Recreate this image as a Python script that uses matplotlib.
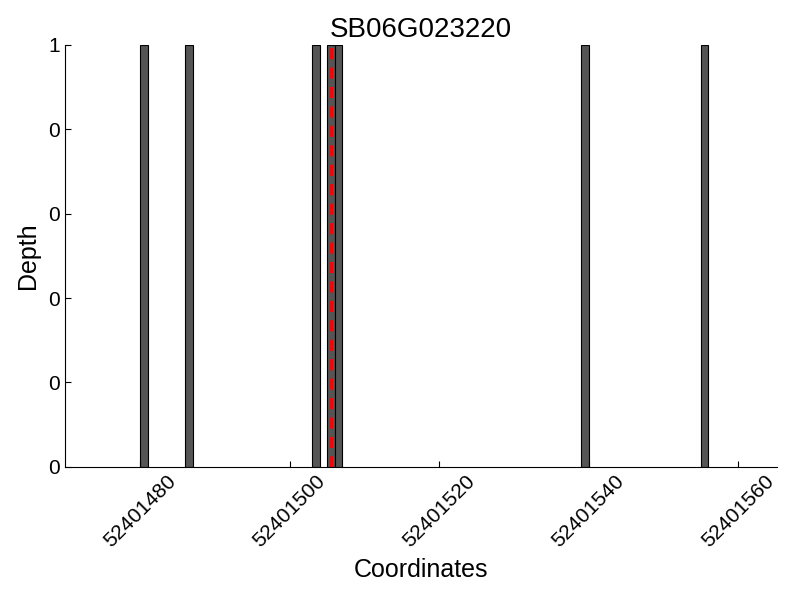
import matplotlib
matplotlib.use('Agg')
import matplotlib.pyplot as plt
from matplotlib.ticker import FormatStrFormatter

plt.rcParams['font.family'] = ['Liberation Sans', 'DejaVu Sans']

# Read coverage positions (left edge of each 1-bp bin) and depth
positions = [52401480, 52401486, 52401503, 52401505, 52401506, 52401539, 52401555]
depths = [1, 1, 1, 1, 1, 1, 1]
snp_pos = 52401505.5
title = 'SB06G023220'
x_ticks = [52401480, 52401500, 52401520, 52401540, 52401560]

fig = plt.figure(figsize=(8, 6), dpi=100)
ax = fig.add_axes([0.081, 0.222, 0.890, 0.703])

ax.bar(positions, depths, width=1, align='edge', color='#555555',
       edgecolor='black', linewidth=0.8)
ax.axvline(snp_pos, color='red', linestyle='--', linewidth=2, dashes=(4, 3))

ax.set_xlim(52401469.9, 52401565.2)
ax.set_ylim(0, 1)
ax.set_xticks(x_ticks)
ax.set_yticks([0, 0.2, 0.4, 0.6, 0.8, 1.0])
ax.yaxis.set_major_formatter(FormatStrFormatter('%d'))
ax.xaxis.set_major_formatter(FormatStrFormatter('%d'))

for s in ['top', 'right']:
    ax.spines[s].set_visible(False)
ax.tick_params(direction='in', length=4, width=0.8, labelsize=15)
plt.setp(ax.get_xticklabels(), rotation=45)

ax.set_title(title, fontsize=20)
ax.set_xlabel('Coordinates', fontsize=18, labelpad=5)
ax.set_ylabel('Depth', fontsize=18, labelpad=6)

fig.savefig('out.png', dpi=100)
